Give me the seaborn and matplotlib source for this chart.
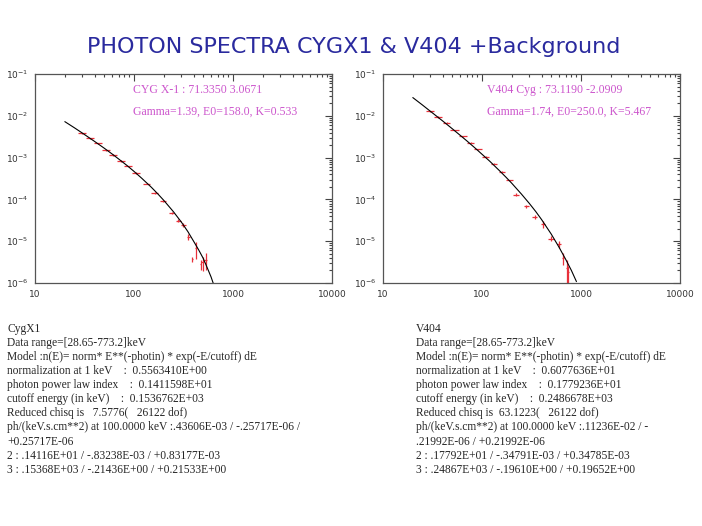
import numpy as np
import pandas as pd
import seaborn as sns
import matplotlib.pyplot as plt

# model curves (keV, ph/keV/s/cm2)
cyg_curve_e = [20, 25, 30, 40, 50, 60, 70, 85, 100, 120, 150, 175, 200, 250, 300, 350, 400, 450, 500, 550, 600, 640]
cyg_curve_f = [7.3e-3, 5.2e-3, 3.9e-3, 2.45e-3, 1.69e-3, 1.23e-3, 9.3e-4, 6.5e-4, 4.7e-4, 3.2e-4, 1.95e-4,
               1.34e-4, 9.5e-5, 5.1e-5, 2.9e-5, 1.7e-5, 1.0e-5, 6.2e-6, 3.9e-6, 2.3e-6, 1.4e-6, 0.9e-6]

v404_curve_e = [20, 25, 30, 40, 50, 60, 70, 85, 100, 120, 150, 175, 200, 250, 300, 350, 400, 500, 600, 700, 800, 900]
v404_curve_f = [2.75e-2, 1.83e-2, 1.3e-2, 7.6e-3, 4.95e-3, 3.46e-3, 2.55e-3, 1.71e-3, 1.21e-3, 8.2e-4, 4.9e-4,
                3.4e-4, 2.44e-4, 1.35e-4, 8.1e-5, 5.1e-5, 3.3e-5, 1.49e-5, 7.2e-6, 3.7e-6, 2.0e-6, 1.08e-6]

# measured points
cyg_pts_e = [30, 36, 43, 52, 62, 74, 88, 105, 134, 163, 197, 240, 280, 315, 355, 388, 423, 470, 494, 530]
cyg_pts_f = [3.8e-3, 2.9e-3, 2.2e-3, 1.5e-3, 1.15e-3, 8.4e-4, 6.2e-4, 4.3e-4, 2.4e-4, 1.45e-4, 9.0e-5,
             4.7e-5, 3.1e-5, 2.5e-5, 1.25e-5, 3.7e-6, 6.8e-6, 2.8e-6, 3.1e-6, 3.6e-6]
cyg_pts_xe = [3, 3.5, 4, 5, 6, 7, 8, 9, 12, 13, 15, 16, 16, 18, 14, 6, 14, 8, 16, 22]
cyg_pts_ye = [1.5e-4, 1.2e-4, 9e-5, 6e-5, 4.5e-5, 3e-5, 2.2e-5, 1.5e-5, 1e-5, 7e-6, 5e-6, 3e-6, 2.5e-6,
              2.5e-6, 2e-6, 6e-7, 3e-6, 8e-7, 1.2e-6, 1.6e-6]

v404_pts_e = [30, 36, 44, 53, 64, 77, 92, 110, 132, 160, 190, 222, 280, 340, 415, 500, 600, 660, 725, 745]
v404_pts_f = [1.3e-2, 9.4e-3, 6.8e-3, 4.6e-3, 3.3e-3, 2.3e-3, 1.6e-3, 1.05e-3, 7.2e-4, 4.6e-4, 2.9e-4,
              1.3e-4, 6.8e-5, 3.8e-5, 2.6e-5, 1.15e-5, 8.5e-6, 3.9e-6, 2.3e-6, 1.8e-6]
v404_pts_xe = [3, 3.5, 4, 5, 6, 7, 8, 9, 10, 12, 14, 15, 16, 18, 20, 35, 25, 12, 20, 14]
v404_pts_ye = [4e-4, 3e-4, 2e-4, 1.3e-4, 9e-5, 6e-5, 4e-5, 2.5e-5, 1.8e-5, 1.2e-5, 8e-6, 1.2e-5,
               6e-6, 4e-6, 5e-6, 1.5e-6, 1.8e-6, 1.2e-6, 1.3e-6, 8e-7]

labels = {
    'cyg': ['CYG X-1 : 71.3350 3.0671', 'Gamma=1.39, E0=158.0, K=0.533'],
    'v404': ['V404 Cyg : 73.1190 -2.0909', 'Gamma=1.74, E0=250.0, K=5.467'],
}

cyg_text = """CygX1
Data range=[28.65-773.2]keV
Model :n(E)= norm* E**(-photin) * exp(-E/cutoff) dE
normalization at 1 keV    :  0.5563410E+00
photon power law index    :  0.1411598E+01
cutoff energy (in keV)    :  0.1536762E+03
Reduced chisq is   7.5776(   26122 dof)
ph/(keV.s.cm**2) at 100.0000 keV :.43606E-03 / -.25717E-06 /
+0.25717E-06
2 : .14116E+01 / -.83238E-03 / +0.83177E-03
3 : .15368E+03 / -.21436E+00 / +0.21533E+00"""

v404_text = """V404
Data range=[28.65-773.2]keV
Model :n(E)= norm* E**(-photin) * exp(-E/cutoff) dE
normalization at 1 keV    :  0.6077636E+01
photon power law index    :  0.1779236E+01
cutoff energy (in keV)    :  0.2486678E+03
Reduced chisq is  63.1223(   26122 dof)
ph/(keV.s.cm**2) at 100.0000 keV :.11236E-02 / -
.21992E-06 / +0.21992E-06
2 : .17792E+01 / -.34791E-03 / +0.34785E-03
3 : .24867E+03 / -.19610E+00 / +0.19652E+00"""

sns.set_style('white')
plt.rcParams['font.family'] = ['DejaVu Sans']

fig = plt.figure(figsize=(7.02, 5.26), dpi=100)
ax1 = fig.add_axes([0.0499, 0.462, 0.423, 0.397])
ax2 = fig.add_axes([0.5456, 0.462, 0.423, 0.397])

sets = [
    (ax1, cyg_curve_e, cyg_curve_f, cyg_pts_e, cyg_pts_f, cyg_pts_xe, cyg_pts_ye, labels['cyg'], 0.33),
    (ax2, v404_curve_e, v404_curve_f, v404_pts_e, v404_pts_f, v404_pts_xe, v404_pts_ye, labels['v404'], 0.35),
]

for ax, ce, cf, pe, pf, pxe, pye, lab, tx in sets:
    curve = pd.DataFrame({'E': ce, 'F': cf})
    ax.errorbar(pe, pf, xerr=pxe, yerr=pye, fmt='none', ecolor='#e8303a', elinewidth=0.9)
    sns.lineplot(data=curve, x='E', y='F', ax=ax, color='black', linewidth=0.8)
    ax.set_xscale('log')
    ax.set_yscale('log')
    ax.set_xlim(10, 10000)
    ax.set_ylim(1e-6, 1e-1)
    ax.set_xlabel('')
    ax.set_ylabel('')
    ax.set_xticks([10, 100, 1000, 10000])
    ax.set_xticklabels(['10', '100', '1000', '10000'])
    ax.set_yticks([1e-6, 1e-5, 1e-4, 1e-3, 1e-2, 1e-1])
    ax.set_yticklabels([r'$10^{-6}$', r'$10^{-5}$', r'$10^{-4}$', r'$10^{-3}$', r'$10^{-2}$', r'$10^{-1}$'])
    ax.tick_params(which='both', direction='in', top=True, right=True, colors='#444444',
                   labelcolor='#333333', labelsize=6.5, width=0.8)
    ax.tick_params(which='major', length=5, pad=5)
    ax.tick_params(which='minor', length=2.5)
    for s in ax.spines.values():
        s.set_color('#555555')
        s.set_linewidth(0.9)
    ax.text(tx, 0.923, lab[0], transform=ax.transAxes, color='#cc55cc', fontsize=8.5,
            family='Liberation Serif', va='center')
    ax.text(tx, 0.818, lab[1], transform=ax.transAxes, color='#cc55cc', fontsize=8.5,
            family='Liberation Serif', va='center')

fig.text(0.504, 0.91, 'PHOTON SPECTRA CYGX1 & V404 +Background', ha='center', va='center',
         color='#2a2a9e', fontsize=16.0)

fig.text(7 / 702, 1 - 323 / 526, cyg_text, ha='left', va='top', family='Liberation Serif',
         fontsize=8.3, linespacing=1.23)
fig.text(416 / 702, 1 - 323 / 526, v404_text, ha='left', va='top', family='Liberation Serif',
         fontsize=8.3, linespacing=1.23)

fig.savefig('out.png', dpi=100)
